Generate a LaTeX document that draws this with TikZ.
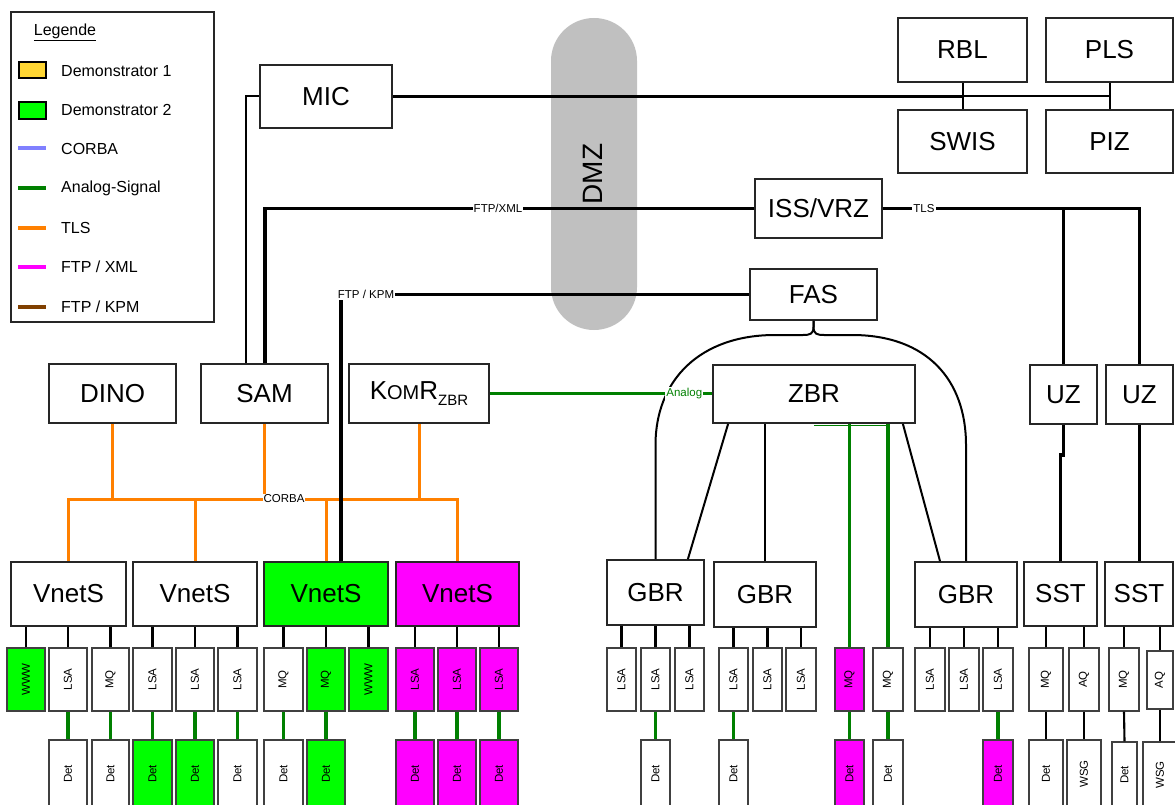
\documentclass[tikz,border=0pt]{standalone}
\usepackage{fontspec}
\setmainfont{Liberation Sans}
\definecolor{dgreen}{HTML}{008000}
\definecolor{orangeL}{HTML}{FF8000}
\definecolor{gfill}{HTML}{00FF00}
\definecolor{mfill}{HTML}{FF00FF}
\definecolor{yfill}{HTML}{FFD633}
\definecolor{corbablue}{HTML}{8080FF}
\definecolor{kpmbrown}{HTML}{804000}
\definecolor{dmzgray}{HTML}{C0C0C0}
\newcommand\bbx[7]{\node[bigbox,fill=#6,minimum width={(#3-#2)*1pt},minimum height={(#5-#4)*1pt}] (#1) at ({(#2+#3)/2},{(#4+#5)/2}) {#7};}
\newcommand\sbx[7]{\node[sbox,fill=#6,minimum width={(#3-#2)*1pt},minimum height={(#5-#4)*1pt}] (#1) at ({(#2+#3)/2},{(#4+#5)/2}) {\rotatebox{90}{#7}};}
\begin{document}
\begin{tikzpicture}[x=1pt,y=-1pt,
  bigbox/.style={draw=black!85,line width=1.8pt,inner sep=0pt,font=\fontsize{26}{30}\selectfont},
  sbox/.style={draw=black!75,line width=1.4pt,inner sep=0pt,font=\fontsize{11.5}{12}\selectfont},
  lbl/.style={fill=white,inner sep=1pt,font=\fontsize{11.5}{12}\selectfont},
  lgtext/.style={anchor=west,inner sep=0pt,font=\fontsize{16}{18}\selectfont},
  ftp/.style={line width=3.4pt,black},
  thinl/.style={line width=2pt,black},
  conn/.style={line width=2.1pt,black},
  analog/.style={line width=3.2pt,dgreen},
  corba/.style={line width=3pt,orangeL},
  lgline/.style={line width=3.5pt},
]
\useasboundingbox (0,0) rectangle (1175,805);
\clip (0,0) rectangle (1175,805);

% DMZ
\fill[dmzgray,rounded corners=42.9pt] (551,18) rectangle (637,330);
\node[rotate=90,inner sep=0pt,font=\fontsize{28}{30}\selectfont] (dmzt) at (593,174) {DMZ};

% Legend
\draw[line width=1.7pt,black!85] (11,12) rectangle (214,322);
\node[lgtext,anchor=center] (lgtitle) at (65,32) {\underline{Legende}};
\draw[fill=yfill,line width=1.3pt] (19,62) rectangle (46,78);
\draw[fill=gfill,line width=1.3pt] (19,102) rectangle (46,119);
\draw[lgline,corbablue] (18,148) -- (46,148);
\draw[lgline,dgreen] (18,188) -- (46,188);
\draw[lgline,orangeL] (18,228) -- (46,228);
\draw[lgline,mfill] (18,267) -- (46,267);
\draw[lgline,kpmbrown] (18,307) -- (46,307);
\node[lgtext] (lg1) at (61,71) {Demonstrator 1};
\node[lgtext] (lg2) at (61,110) {Demonstrator 2};
\node[lgtext] (lg3) at (61,149) {CORBA};
\node[lgtext] (lg4) at (61,188) {Analog-Signal};
\node[lgtext] (lg5) at (61,228) {TLS};
\node[lgtext] (lg6) at (61,267) {FTP / XML};
\node[lgtext] (lg7) at (61,307) {FTP / KPM};

% Big boxes
\bbx{MIC}{260}{392}{65}{128}{white}{MIC}
\bbx{RBL}{898}{1027}{18}{82}{white}{RBL}
\bbx{PLS}{1046}{1173}{18}{82}{white}{PLS}
\bbx{SWIS}{898}{1027}{110}{173}{white}{SWIS}
\bbx{PIZ}{1046}{1173}{110}{173}{white}{PIZ}
\bbx{ISS}{755}{882}{179}{238}{white}{ISS/VRZ}
\bbx{FAS}{750}{877}{269}{320}{white}{FAS}
\bbx{DINO}{49}{176}{364}{423}{white}{DINO}
\bbx{SAM}{201}{328}{364}{423}{white}{SAM}
\bbx{KOMR}{349}{489}{364}{423}{white}{K{\fontsize{20}{22}\selectfont OM}R\raisebox{-6pt}{\fontsize{15}{16}\selectfont ZBR}}
\bbx{ZBR}{713}{915}{365}{423}{white}{ZBR}
\bbx{UZa}{1030}{1097}{365}{424}{white}{UZ}
\bbx{UZb}{1106}{1173}{365}{424}{white}{UZ}
\bbx{V1}{11}{126}{562}{626}{white}{VnetS}
\bbx{V2}{133}{257}{562}{626}{white}{VnetS}
\bbx{V3}{264}{388}{562}{626}{gfill}{VnetS}
\bbx{V4}{396}{519}{562}{626}{mfill}{VnetS}
\bbx{G1}{607}{704}{560}{625}{white}{GBR}
\bbx{G2}{714}{816}{562}{627}{white}{GBR}
\bbx{G3}{915}{1017}{562}{627}{white}{GBR}
\bbx{S1}{1024}{1097}{562}{626}{white}{SST}
\bbx{S2}{1105}{1173}{562}{626}{white}{SST}

% Small boxes
\sbx{s1a}{7}{45}{648}{711}{gfill}{WWW}
\sbx{s1b}{49}{87}{648}{711}{white}{LSA}
\sbx{s1c}{92}{129}{648}{711}{white}{MQ}
\sbx{s2a}{133}{172}{648}{711}{white}{LSA}
\sbx{s2b}{176}{214}{648}{711}{white}{LSA}
\sbx{s2c}{218}{257}{648}{711}{white}{LSA}
\sbx{s3a}{264}{303}{648}{711}{white}{MQ}
\sbx{s3b}{307}{345}{648}{711}{gfill}{MQ}
\sbx{s3c}{349}{388}{648}{711}{gfill}{WWW}
\sbx{s4a}{396}{434}{648}{711}{mfill}{LSA}
\sbx{s4b}{438}{476}{648}{711}{mfill}{LSA}
\sbx{s4c}{480}{518}{648}{711}{mfill}{LSA}
\sbx{g1a}{607}{636}{648}{711}{white}{LSA}
\sbx{g1b}{641}{670}{648}{711}{white}{LSA}
\sbx{g1c}{675}{704}{648}{711}{white}{LSA}
\sbx{g2a}{719}{748}{648}{711}{white}{LSA}
\sbx{g2b}{753}{782}{648}{711}{white}{LSA}
\sbx{g2c}{786}{816}{648}{711}{white}{LSA}
\sbx{mqm}{835}{864}{648}{711}{mfill}{MQ}
\sbx{mqw}{873}{903}{648}{711}{white}{MQ}
\sbx{g3a}{915}{945}{648}{711}{white}{LSA}
\sbx{g3b}{949}{979}{648}{711}{white}{LSA}
\sbx{g3c}{983}{1013}{648}{711}{white}{LSA}
\sbx{t1a}{1029}{1063}{648}{711}{white}{MQ}
\sbx{t1b}{1069}{1099}{648}{711}{white}{AQ}
\sbx{t2a}{1109}{1139}{648}{711}{white}{MQ}
\sbx{t2b}{1147}{1173}{651}{709}{white}{AQ}

% Det row
\sbx{d1b}{49}{87}{740}{808}{white}{Det}
\sbx{d1c}{92}{129}{740}{808}{white}{Det}
\sbx{d2a}{133}{172}{740}{808}{gfill}{Det}
\sbx{d2b}{176}{214}{740}{808}{gfill}{Det}
\sbx{d2c}{218}{257}{740}{808}{white}{Det}
\sbx{d3a}{264}{303}{740}{808}{white}{Det}
\sbx{d3b}{307}{345}{740}{808}{gfill}{Det}
\sbx{d4a}{396}{434}{740}{808}{mfill}{Det}
\sbx{d4b}{438}{476}{740}{808}{mfill}{Det}
\sbx{d4c}{480}{518}{740}{808}{mfill}{Det}
\sbx{dg1b}{641}{670}{740}{808}{white}{Det}
\sbx{dg2a}{719}{748}{740}{808}{white}{Det}
\sbx{dmqm}{835}{864}{740}{808}{mfill}{Det}
\sbx{dmqw}{873}{903}{740}{808}{white}{Det}
\sbx{dg3c}{983}{1013}{740}{808}{mfill}{Det}
\sbx{dt1a}{1029}{1063}{740}{808}{white}{Det}
\sbx{dt1b}{1067}{1101}{740}{808}{white}{WSG}
\sbx{dt2a}{1112}{1137}{742}{808}{white}{Det}
\sbx{dt2b}{1143}{1177}{742}{808}{white}{WSG}

% Parent -> child connectors
\foreach \c/\p in {s1a/V1,s1b/V1,s1c/V1,s2a/V2,s2b/V2,s2c/V2,s3a/V3,s3b/V3,s3c/V3,s4a/V4,s4b/V4,s4c/V4,
  g1a/G1,g1b/G1,g1c/G1,g2a/G2,g2b/G2,g2c/G2,g3a/G3,g3b/G3,g3c/G3,t1a/S1,t1b/S1,t2a/S2,t2b/S2}
  \draw[conn] (\c.north) -- (\c.north |- \p.south);

% Analog lines child -> Det
\foreach \c/\d in {s1b/d1b,s1c/d1c,s2a/d2a,s2b/d2b,s2c/d2c,s3a/d3a,s3b/d3b,s4a/d4a,s4b/d4b,s4c/d4c,
  g1b/dg1b,g2a/dg2a,mqm/dmqm,mqw/dmqw,g3c/dg3c}
  \draw[analog] (\c.south) -- (\d.north);
\foreach \c/\d in {t1a/dt1a,t1b/dt1b,t2a/dt2a,t2b/dt2b}
  \draw[conn] (\c.south) -- (\d.north);

% ZBR -> MQ analog
\draw[analog] (mqm.north) -- (mqm.north |- ZBR.south);
\draw[analog] (mqw.north) -- (mqw.north |- ZBR.south);
\draw[dgreen,line width=1.5pt] ([yshift=-1.5pt]ZBR.south) -- ([yshift=-1.5pt]mqw.north |- ZBR.south);

% ZBR -> GBR
\draw[thinl] ([xshift=16pt]ZBR.south west) -- ([xshift=-17pt]G1.north east);
\draw[thinl] (G2.north) -- (G2.north |- ZBR.south);
\draw[thinl] ([xshift=-13pt]ZBR.south east) -- ([xshift=-26pt]G3.north);

% FAS arches
\draw[thinl] (FAS.south) -- ++(0,6) .. controls (813.5,334) and (810,335) .. (803,335) -- (775,335)
  .. controls (700,335) and (655.5,380) .. (655.5,445) -- (G1.north);
\draw[thinl] (FAS.south) -- ++(0,6) .. controls (813.5,334) and (817,335) .. (824,335) -- (852,335)
  .. controls (927,335) and (966,380) .. (966,445) -- (G3.north);

% Analog KOMR -> ZBR
\draw[analog] (KOMR.east) -- node[lbl,pos=0.875] (analoglbl) {Analog} (KOMR.east -| ZBR.west);

% CORBA
\draw[corba] (V1.north) -- (V1.north |- 0,499) -- (V4.north |- 0,499) -- (V4.north);
\draw[corba] (DINO.south) -- (DINO.south |- 0,499);
\draw[corba] (SAM.south) -- (SAM.south |- 0,499);
\draw[corba] (KOMR.south) -- (KOMR.south |- 0,499);
\draw[corba] (V2.north) -- (V2.north |- 0,499);
\draw[corba] (V3.north) -- (V3.north |- 0,499);
\node[lbl] (corbalbl) at (284,499) {CORBA};

% MIC line
\draw[ftp] (MIC.east) -- (MIC.east -| RBL.south);
\draw[thinl] (MIC.east -| RBL.south) -- (MIC.east -| PLS.south);
\draw[thinl] (RBL.south) -- (SWIS.north);
\draw[thinl] (PLS.south) -- (PIZ.north);
\draw[thinl] ([xshift=-19pt]SAM.north) |- (MIC.west);

% FTP/XML
\draw[ftp] ([xshift=0.5pt]SAM.north) |- (ISS.west);
\node[lbl] (xmllbl) at (498,208.5) {FTP/XML};

% TLS
\draw[ftp] (ISS.east) -| (UZb.north);
\draw[ftp] (UZa.north) -- (UZa.north |- ISS.east);
\node[lbl] (tlslbl) at (924,208.5) {TLS};
\draw[ftp] (UZa.south) -- ++(0,30) -| (S1.north);
\draw[ftp] (UZb.south) -- (UZb.south |- S2.north);

% FTP/KPM
\draw[ftp] ([xshift=15pt]V3.north) |- (FAS.west);
\node[lbl] (kpmlbl) at (366,294.5) {FTP / KPM};

\end{tikzpicture}
\end{document}
